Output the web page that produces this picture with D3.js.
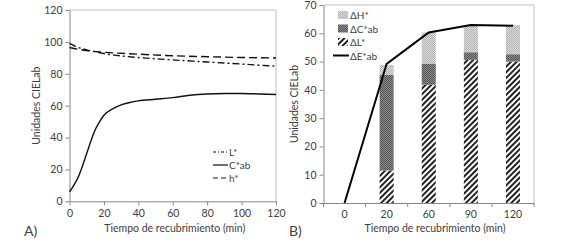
<!DOCTYPE html>
<html>
<head>
<meta charset="utf-8">
<script src="https://cdn.jsdelivr.net/npm/d3@7"></script>
<style>
body { margin: 0; background: #fff; }
text { font-family: Lato, "Open Sans", sans-serif; fill: #404040; }
</style>
</head>
<body>
<script>
const width = 567, height = 243;

// Panel A data: CIELab values over coating time
const timeL = [0, 5, 10, 15, 20, 30, 40, 60, 80, 100, 120];
const valL = [99, 96.5, 95, 93.8, 92.7, 91.2, 90.2, 88.7, 87.4, 86.1, 84.7];
const timeC = [0, 2.5, 5, 7.5, 10, 12.5, 15, 17.5, 20, 25, 30, 35, 40, 50, 60, 70, 80, 90, 100, 110, 120];
const valC = [6, 10, 15, 22, 30, 38, 45, 50, 54, 58, 60.5, 62, 63, 64, 65, 66.5, 67.3, 67.6, 67.6, 67.3, 67];
const timeH = [0, 10, 20, 40, 60, 80, 100, 120];
const valH = [96.5, 94.5, 93.5, 92.3, 91.3, 90.7, 90.2, 89.9];

// Panel B data: colour differences
const categories = ["0", "20", "60", "90", "120"];
const deltaL = [0, 11.5, 41.8, 50.6, 50.0];
const deltaC = [0, 33.8, 7.5, 2.7, 2.6];
const deltaH = [0, 3.5, 11.0, 9.6, 10.3];
const deltaE = [0, 49.2, 60.3, 62.9, 62.7];

const svg = d3.select("body").append("svg").attr("width", width).attr("height", height);

// patterns
const defs = svg.append("defs");
function checker(id, dark, light) {
    const p = defs.append("pattern").attr("id", id).attr("width", 2).attr("height", 2)
        .attr("patternUnits", "userSpaceOnUse");
    p.append("rect").attr("width", 2).attr("height", 2).attr("fill", light);
    p.append("rect").attr("width", 1).attr("height", 1).attr("fill", dark);
    p.append("rect").attr("x", 1).attr("y", 1).attr("width", 1).attr("height", 1).attr("fill", dark);
}
checker("patH", "#b4b4b4", "#dadada");
checker("patC", "#555555", "#8a8a8a");
const hatch = defs.append("pattern").attr("id", "patL").attr("width", 4).attr("height", 4)
    .attr("patternUnits", "userSpaceOnUse").attr("patternTransform", "rotate(45)");
hatch.append("rect").attr("width", 4).attr("height", 4).attr("fill", "#fff");
hatch.append("rect").attr("width", 2).attr("height", 4).attr("fill", "#222");

function styleAxis(g) {
    g.selectAll(".domain").attr("stroke", "#868686");
    g.selectAll(".tick line").attr("stroke", "#868686");
    g.selectAll(".tick text").style("font-size", "10.5px").attr("fill", "#404040")
        .style("font-family", "Lato, sans-serif");
}

// ---------- Panel A ----------
const xA = d3.scaleLinear().domain([0, 120]).range([69.5, 276]);
const yA = d3.scaleLinear().domain([0, 120]).range([201.3, 10]);

// frame
svg.append("path")
   .attr("d", `M${xA(0)},${yA(120)}H${xA(120)}V${yA(0)}`)
   .attr("fill", "none").attr("stroke", "#bfbfbf");

svg.append("g").attr("transform", `translate(0,${yA(0)})`)
   .call(d3.axisBottom(xA).tickValues(d3.range(0, 121, 20)).tickSize(4).tickSizeOuter(0).tickPadding(4))
   .call(styleAxis);
svg.append("g").attr("transform", `translate(${xA(0)},0)`)
   .call(d3.axisLeft(yA).tickValues(d3.range(0, 121, 20)).tickSize(4).tickSizeOuter(0).tickPadding(3))
   .call(styleAxis);

const lineA = d3.line().x(d => xA(d[0])).y(d => yA(d[1])).curve(d3.curveMonotoneX);
const seriesA = [
    { name: "L*", data: d3.zip(timeL, valL), dash: "7,3,2,3", legDash: "3,2,1,2" },
    { name: "C*ab", data: d3.zip(timeC, valC), dash: null, legDash: null },
    { name: "h*", data: d3.zip(timeH, valH), dash: "8,4", legDash: "5,3" }
];
svg.selectAll(".lineA").data(seriesA).enter().append("path")
   .attr("class", "lineA")
   .attr("d", d => lineA(d.data))
   .attr("fill", "none").attr("stroke", "#111").attr("stroke-width", 1.4)
   .attr("stroke-dasharray", d => d.dash);

const legA = svg.append("g").attr("transform", "translate(213,152)");
seriesA.forEach((s, i) => {
    legA.append("line").attr("x1", 0).attr("x2", 15).attr("y1", i * 13).attr("y2", i * 13)
        .attr("stroke", "#111").attr("stroke-width", 1.2).attr("stroke-dasharray", s.legDash);
    legA.append("text").attr("x", 16).attr("y", i * 13 + 4).text(s.name).style("font-size", "10px");
});

svg.append("text").attr("transform", `translate(40,${(yA(0) + yA(120)) / 2}) rotate(-90)`)
   .attr("text-anchor", "middle").style("font-size", "10.5px").text("Unidades CIELab");
svg.append("text").attr("x", (xA(0) + xA(120)) / 2 + 2).attr("y", 232)
   .attr("text-anchor", "middle").style("font-size", "10.5px").text("Tiempo de recubrimiento (min)");
svg.append("text").attr("x", 24).attr("y", 236).style("font-size", "14px").attr("fill", "#1f3864").text("A)");

// ---------- Panel B ----------
const xB = d3.scaleBand().domain(categories).range([323.5, 534]).paddingInner(0.667).paddingOuter(0.333);
const yB = d3.scaleLinear().domain([0, 70]).range([203, 5]);

svg.append("path")
   .attr("d", `M${xB.range()[0]},${yB(70)}H${xB.range()[1]}V${yB(0)}`)
   .attr("fill", "none").attr("stroke", "#bfbfbf");

const stackData = categories.map((c, i) => ({ cat: c, L: deltaL[i], C: deltaC[i], H: deltaH[i] }));
const stacked = d3.stack().keys(["L", "C", "H"])(stackData);
const fills = { L: "url(#patL)", C: "url(#patC)", H: "url(#patH)" };

svg.selectAll(".layer").data(stacked).enter().append("g")
   .attr("class", "layer").attr("fill", d => fills[d.key])
   .selectAll("rect").data(d => d).enter().append("rect")
   .attr("x", d => xB(d.data.cat))
   .attr("width", xB.bandwidth())
   .attr("y", d => yB(d[1]))
   .attr("height", d => yB(d[0]) - yB(d[1]));

const gxB = svg.append("g").attr("transform", `translate(0,${yB(0)})`)
   .call(d3.axisBottom(xB).tickSize(0).tickPadding(8))
   .call(styleAxis);
const step = xB.step();
gxB.selectAll(".bound").data(d3.range(categories.length + 1)).enter().append("line")
   .attr("x1", i => xB.range()[0] + i * step).attr("x2", i => xB.range()[0] + i * step)
   .attr("y1", 0).attr("y2", 4).attr("stroke", "#868686");

svg.append("g").attr("transform", `translate(${xB.range()[0]},0)`)
   .call(d3.axisLeft(yB).tickValues(d3.range(0, 71, 10)).tickSize(4).tickSizeOuter(0).tickPadding(3))
   .call(styleAxis);

const lineB = d3.line().x((d, i) => xB(categories[i]) + xB.bandwidth() / 2).y(d => yB(d));
svg.append("path").attr("d", lineB(deltaE))
   .attr("fill", "none").attr("stroke", "#000").attr("stroke-width", 2);

const legB = svg.append("g").attr("transform", "translate(338,15)");
[["ΔH*", "url(#patH)"], ["ΔC*ab", "url(#patC)"], ["ΔL*", "url(#patL)"]].forEach((d, i) => {
    legB.append("rect").attr("x", 0).attr("y", i * 13.5 - 4).attr("width", 10).attr("height", 8).attr("fill", d[1]);
    legB.append("text").attr("x", 12).attr("y", i * 13.5 + 4).text(d[0]).style("font-size", "10px");
});
legB.append("line").attr("x1", -5).attr("x2", 11).attr("y1", 40.5).attr("y2", 40.5)
    .attr("stroke", "#000").attr("stroke-width", 2);
legB.append("text").attr("x", 12).attr("y", 44.5).text("ΔE*ab").style("font-size", "10px");

svg.append("text").attr("transform", `translate(298,${(yB(0) + yB(70)) / 2}) rotate(-90)`)
   .attr("text-anchor", "middle").style("font-size", "10.5px").text("Unidades CIELab");
svg.append("text").attr("x", 435).attr("y", 232)
   .attr("text-anchor", "middle").style("font-size", "10.5px").text("Tiempo de recubrimiento (min)");
svg.append("text").attr("x", 289).attr("y", 236).style("font-size", "14px").attr("fill", "#1f3864").text("B)");
</script>
</body>
</html>
